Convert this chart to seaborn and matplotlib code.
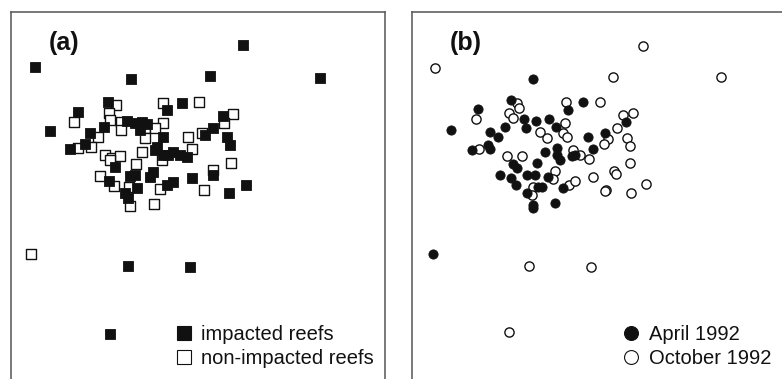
import matplotlib
matplotlib.use("Agg")
import matplotlib.pyplot as plt
import pandas as pd
import seaborn as sns
from matplotlib.lines import Line2D

# MDS ordination, panel (a): impacted vs non-impacted reefs
a_imp_x = [24, 232, 120, 199, 309, 39, 97, 67, 93, 79, 74, 59, 116, 124, 131, 136, 129,
           156, 171, 212, 202, 194, 216, 219, 152, 146, 144, 152, 157, 162, 169, 176,
           104, 119, 124, 139, 142, 98, 126, 114, 117, 156, 162, 181, 202, 218, 235,
           117, 179, 99]
a_imp_y = [312, 334, 300, 303, 301, 248, 277, 267, 252, 246, 235, 230, 258, 256, 257, 255, 249,
           269, 276, 263, 251, 244, 242, 234, 242, 232, 229, 224, 224, 227, 224, 222,
           212, 203, 204, 202, 207, 198, 191, 186, 181, 194, 197, 201, 204, 186, 194,
           113, 112, 45]
a_non_x = [20, 105, 98, 63, 87, 99, 110, 110, 134, 134, 67, 80, 94, 101, 109, 131, 152,
           188, 222, 213, 191, 177, 152, 144, 181, 151, 125, 89, 103, 118, 119, 143,
           149, 193, 202, 220, 99]
a_non_y = [125, 274, 266, 257, 242, 259, 257, 249, 251, 241, 231, 232, 224, 221, 223, 227, 276,
           277, 265, 256, 246, 242, 256, 251, 230, 219, 215, 203, 193, 192, 173, 175,
           190, 189, 209, 216, 219]

# panel (b): April vs October 1992
b_apr_x = [121, 39, 66, 99, 156, 171, 214, 193, 176, 181, 112, 124, 137, 114, 144, 93, 86,
           78, 76, 60, 78, 145, 145, 133, 148, 160, 163, 101, 105, 125, 88, 99, 104,
           115, 123, 126, 115, 121, 121, 136, 130, 151, 143, 21]
b_apr_y = [300, 249, 270, 279, 269, 277, 257, 246, 242, 230, 260, 258, 260, 251, 252, 252, 242,
           247, 234, 229, 230, 231, 224, 227, 219, 223, 224, 215, 211, 216, 204, 201, 194,
           204, 204, 192, 186, 174, 171, 202, 192, 191, 176, 125]
b_oct_x = [23, 231, 201, 309, 64, 105, 107, 97, 101, 154, 188, 211, 221, 205, 196, 192, 215,
           218, 177, 218, 202, 204, 181, 234, 194, 219, 153, 151, 155, 128, 135, 67,
           95, 110, 168, 161, 143, 141, 157, 163, 121, 120, 193, 117, 179, 97]
b_oct_y = [311, 333, 302, 302, 260, 276, 271, 266, 261, 277, 277, 264, 266, 251, 240, 235, 241,
           233, 220, 216, 208, 205, 202, 195, 189, 186, 256, 246, 242, 247, 241, 230,
           223, 223, 224, 229, 208, 200, 194, 198, 192, 184, 188, 113, 112, 47]

sns.set_theme(style="white")
plt.rcParams["font.family"] = ["Liberation Sans", "DejaVu Sans"]

fig = plt.figure(figsize=(7.82, 3.79), dpi=100)
ax_a = fig.add_axes([11 / 782, 0, 374 / 782, 367 / 379])
ax_b = fig.add_axes([412 / 782, 0, 370 / 782, 367 / 379])

INK = "#111111"


def panel(ax, x1, y1, x2, y2, marker, size, lab1, lab2, tag, xmax):
    d1 = pd.DataFrame({"x": x1, "y": y1})
    d2 = pd.DataFrame({"x": x2, "y": y2})
    sns.scatterplot(data=d2, x="x", y="y", marker=marker, s=size, facecolor="white",
                    edgecolor=INK, linewidth=1.0, ax=ax, zorder=2)
    sns.scatterplot(data=d1, x="x", y="y", marker=marker, s=size, color=INK,
                    edgecolor=INK, linewidth=0.6, ax=ax, zorder=3)
    ax.set_xlim(0, xmax)
    ax.set_ylim(0, 367)
    ax.set_xticks([])
    ax.set_yticks([])
    ax.set_xlabel("")
    ax.set_ylabel("")
    for side in ["left", "top", "right", "bottom"]:
        ax.spines[side].set_color("#555555")
        ax.spines[side].set_linewidth(1.1)
    ax.spines["bottom"].set_visible(False)
    ax.text(38, 336, tag, fontsize=18, fontweight="bold", color=INK,
            ha="left", va="center")
    handles = [
        Line2D([], [], marker=marker, linestyle="", markersize=10,
               markerfacecolor=INK, markeredgecolor=INK, markeredgewidth=0.8),
        Line2D([], [], marker=marker, linestyle="", markersize=10,
               markerfacecolor="white", markeredgecolor=INK, markeredgewidth=0.8),
    ]
    ax.legend(handles, [lab1, lab2], loc="lower right", frameon=False,
              fontsize=14.5, handletextpad=0.35, labelspacing=0.25,
              borderaxespad=0.15, handlelength=1.0, labelcolor=INK)


panel(ax_a, a_imp_x, a_imp_y, a_non_x, a_non_y, "s", 42,
      "impacted reefs", "non-impacted reefs", "(a)", 374)
panel(ax_b, b_apr_x, b_apr_y, b_oct_x, b_oct_y, "o", 44,
      "April 1992", "October 1992", "(b)", 370)
ax_b.spines["right"].set_visible(False)

fig.savefig("out.png", dpi=100)
